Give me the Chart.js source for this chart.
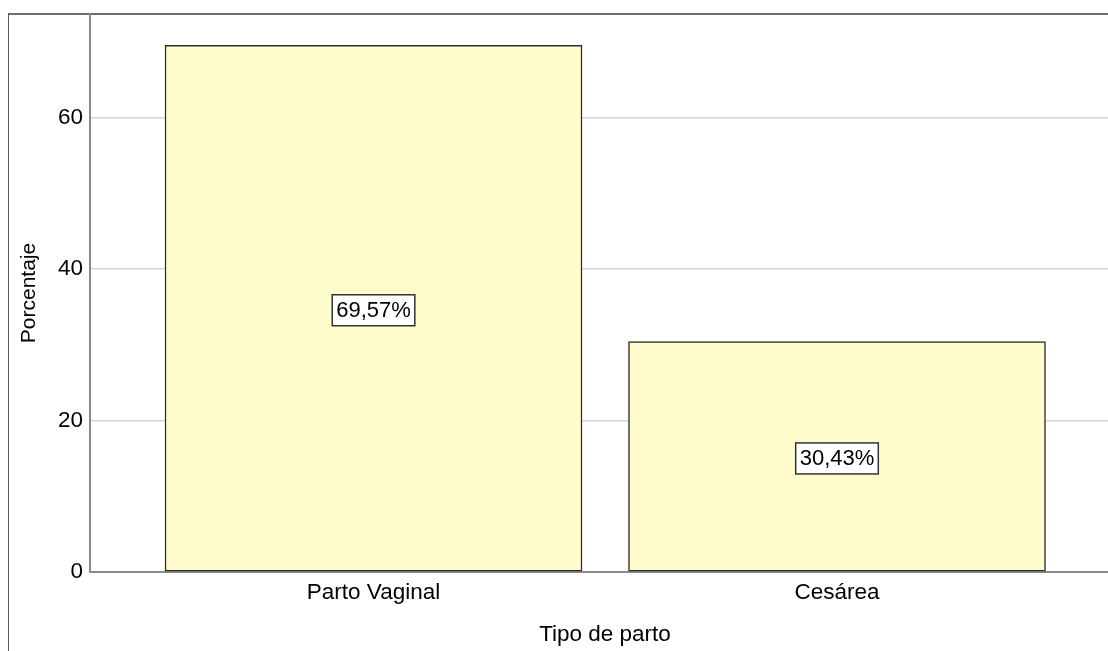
<!DOCTYPE html>
<html>
<head>
<meta charset="utf-8">
<script src="https://cdn.jsdelivr.net/npm/chart.js@4/dist/chart.umd.min.js"></script>
<style>
	html, body { margin: 0; padding: 0; background: #fff; overflow: hidden; }
	#wrap { position: relative; width: 1108px; height: 651px; overflow: hidden; }
	#frame { position: absolute; left: 8px; top: 13px; width: 1200px; height: 700px;
		border-left: 1.5px solid #5a5a5a; border-top: 2px solid #6e6e6e; }
	#chartCanvas { position: absolute; left: 0; top: 0; }
</style>
</head>
<body>
<div id="wrap">
	<div id="frame"></div>
	<canvas id="chartCanvas" width="1130" height="651" style="width:1130px;height:651px"></canvas>
</div>
<script>
var categories = ["Parto Vaginal", "Cesárea"];
var percentages = [69.57, 30.43];
var yTicks = [0, 20, 40, 60];

var fontName = "'Liberation Sans', Arial, sans-serif";

// white boxed labels in the middle of each bar
var barLabels = {
	id: 'barLabels',
	afterDatasetsDraw: function(chart) {
		var ctx = chart.ctx;
		var meta = chart.getDatasetMeta(0);
		ctx.save();
		ctx.font = '22px ' + fontName;
		ctx.textAlign = 'center';
		ctx.textBaseline = 'middle';
		meta.data.forEach(function(bar, i) {
			var txt = percentages[i].toFixed(2).replace('.', ',') + '%';
			var w = ctx.measureText(txt).width + 8;
			var h = 31;
			var cy = (bar.y + bar.base) / 2 + 2;
			ctx.fillStyle = '#fff';
			ctx.fillRect(bar.x - w / 2, cy - h / 2, w, h);
			ctx.strokeStyle = '#333';
			ctx.lineWidth = 1.5;
			ctx.strokeRect(bar.x - w / 2, cy - h / 2, w, h);
			ctx.fillStyle = '#000';
			ctx.fillText(txt, bar.x, cy + 1);
		});
		ctx.restore();
	}
};

var ctx = document.getElementById('chartCanvas').getContext('2d');
var chart = new Chart(ctx, {
	type: 'bar',
	data: {
		datasets: [{
			data: percentages.map(function(v, i) { return { x: i + 1, y: v }; }),
			backgroundColor: '#fffccb',
			borderColor: '#2e2e2e',
			borderWidth: 1.5,
			borderSkipped: false,
			barThickness: 417
		}]
	},
	options: {
		responsive: false,
		maintainAspectRatio: false,
		animation: false,
		devicePixelRatio: 1,
		layout: { padding: { top: 14, right: 10, left: 0, bottom: 0 } },
		plugins: { legend: { display: false }, tooltip: { enabled: false } },
		scales: {
			x: {
				type: 'linear',
				offset: false,
				min: 0.3883,
				max: 2.6106,
				afterBuildTicks: function(scale) {
					scale.ticks = categories.map(function(c, i) { return { value: i + 1 }; });
				},
				afterFit: function(scale) {
					scale.height = 79;
					scale.paddingLeft = 0;
					scale.paddingRight = 0;
				},
				grid: { display: false, drawTicks: false },
				border: { display: true, color: '#8a8a8a', width: 2 },
				ticks: {
					padding: 7,
					color: '#000',
					font: { family: fontName, size: 22.5 },
					callback: function(v) { return categories[v - 1]; }
				},
				title: {
					display: true,
					text: 'Tipo de parto',
					color: '#000',
					font: { family: fontName, size: 22.5 },
					padding: { top: 0, bottom: 3 }
				}
			},
			y: {
				min: 0,
				max: 73.7,
				afterBuildTicks: function(scale) {
					scale.ticks = yTicks.map(function(v) { return { value: v }; });
				},
				afterFit: function(scale) {
					scale.width = 90;
					scale.paddingTop = 0;
					scale.paddingBottom = 0;
				},
				grid: { color: '#d6d6d6', lineWidth: 1.5, drawTicks: false },
				border: { display: true, color: '#8a8a8a', width: 2 },
				ticks: {
					padding: 7,
					color: '#000',
					font: { family: fontName, size: 22.5 }
				},
				title: {
					display: true,
					text: 'Porcentaje',
					color: '#000',
					font: { family: fontName, size: 21 },
					padding: { top: 17, bottom: 0 }
				}
			}
		}
	},
	plugins: [barLabels]
});
</script>
</body>
</html>
